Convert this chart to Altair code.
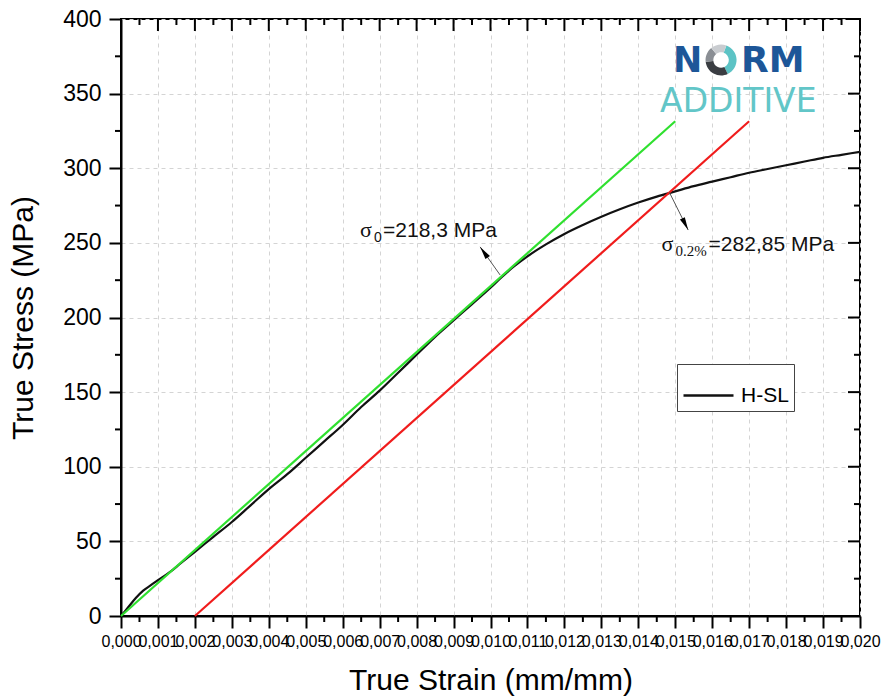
import math
import altair as alt
import pandas as pd

# ---------------- data ----------------
strain = [0.0, 0.0002, 0.0004, 0.0006, 0.0008, 0.0010, 0.0013, 0.0016, 0.0020,
          0.0025, 0.0030, 0.0035, 0.0040, 0.0045, 0.0050, 0.0055, 0.0060, 0.0065,
          0.0070, 0.0075, 0.0080, 0.0085, 0.0090, 0.0095, 0.0100, 0.0103, 0.0106,
          0.0110, 0.0115, 0.0120, 0.0125, 0.0130, 0.0135, 0.0140, 0.0145, 0.0150,
          0.0155, 0.0160, 0.0165, 0.0170, 0.0175, 0.0180, 0.0185, 0.0190, 0.0195,
          0.0200]
stress = [0.0, 6.0, 12.0, 17.0, 20.5, 24.0, 29.0, 35.0, 43.0,
          53.0, 63.0, 74.0, 85.0, 95.0, 106.0, 117.0, 128.0, 140.0,
          151.0, 163.0, 175.0, 187.0, 198.0, 209.0, 220.0, 227.0, 233.5,
          241.0, 249.0, 256.0, 262.0, 267.5, 272.5, 277.0, 281.0, 284.5,
          288.0, 291.0, 294.0, 297.0, 299.5, 302.0, 304.5, 307.0, 309.0,
          311.0]
series_name = "H-SL"

elastic_strain = [0.0, 0.0150]
elastic_stress = [0.0, 331.5]
offset_strain = [0.0020, 0.0170]
offset_stress = [0.0, 331.5]

x_major = [0.000, 0.001, 0.002, 0.003, 0.004, 0.005, 0.006, 0.007, 0.008, 0.009, 0.010,
           0.011, 0.012, 0.013, 0.014, 0.015, 0.016, 0.017, 0.018, 0.019, 0.020]
x_minor = [0.0005, 0.0015, 0.0025, 0.0035, 0.0045, 0.0055, 0.0065, 0.0075, 0.0085, 0.0095,
           0.0105, 0.0115, 0.0125, 0.0135, 0.0145, 0.0155, 0.0165, 0.0175, 0.0185, 0.0195]
y_major = [0, 50, 100, 150, 200, 250, 300, 350, 400]
y_minor = [25, 75, 125, 175, 225, 275, 325, 375]

# annotations
sigma0_sym = "σ"
sigma0_sub = "0"
sigma0_val = "=218,3 MPa"
sigma0_pos = (0.00647, 253.9)
sigma02_sym = "σ"
sigma02_sub = "0.2%"
sigma02_val = "=282,85 MPa"
sigma02_pos = (0.01463, 244.6)
arrow_tail = [(0.01026, 228.5), (0.01484, 283.9)]
arrow_head = [(0.00972, 247.3), (0.01535, 258.6)]

# logo
logo_n_pos = (0.01494, 364.5)
logo_o_pos = (0.01624, 372.5)
logo_rm_pos = (0.01678, 364.5)
logo_add_pos = (0.01459, 337.7)

# ---------------- layout ----------------
W, H = 739, 597
XS = alt.Scale(domain=[0, 0.02], nice=False, zero=False)
YS = alt.Scale(domain=[0, 400], nice=False, zero=False)
FONT = "Liberation Sans"
SERIF = "Liberation Serif"

ax_bottom = alt.Axis(orient="bottom", values=x_major, tickSize=12, tickWidth=2, tickColor="black",
                     domain=True, domainWidth=2, domainColor="black",
                     labelExpr="replace(format(datum.value, '.3f'), '.', ',')",
                     labelFontSize=16, labelFont=FONT, labelColor="black", labelPadding=5,
                     labelOverlap=False, labelFlush=False, labelBound=False,
                     grid=True, gridDash=[4, 4], gridColor="#d4d4d4", gridWidth=1,
                     title="True Strain (mm/mm)", titleFontSize=30, titleFont=FONT,
                     titleFontWeight="normal", titleColor="black", titlePadding=16)
ax_left = alt.Axis(orient="left", values=y_major, tickSize=12, tickWidth=2, tickColor="black",
                   domain=True, domainWidth=2, domainColor="black",
                   labelFontSize=23, labelFont=FONT, labelColor="black", labelPadding=8,
                   labelOverlap=False, labelFlush=False,
                   grid=True, gridDash=[4, 4], gridColor="#d4d4d4", gridWidth=1,
                   title="True Stress (MPa)", titleFontSize=30, titleFont=FONT,
                   titleFontWeight="normal", titleColor="black", titlePadding=24)


def X(field):
    return alt.X(field, scale=XS, axis=ax_bottom)


def Y(field):
    return alt.Y(field, scale=YS, axis=ax_left)


curve_df = pd.DataFrame({"strain": strain, "stress": stress, "series": [series_name] * len(strain)})
elastic_df = pd.DataFrame({"strain": elastic_strain, "stress": elastic_stress})
offset_df = pd.DataFrame({"strain": offset_strain, "stress": offset_stress})

curve = alt.Chart(curve_df).mark_line(strokeWidth=2.2, interpolate="monotone").encode(
    x=X("strain:Q"), y=Y("stress:Q"),
    color=alt.Color("series:N", scale=alt.Scale(domain=[series_name], range=["#111111"]),
                    legend=alt.Legend(orient="none", legendX=556, legendY=345, title=None,
                                      symbolType="stroke", symbolSize=2500, symbolStrokeWidth=2.5,
                                      symbolStrokeColor="#111111",
                                      labelFontSize=21, labelFont=FONT, labelColor="black",
                                      labelOffset=6, strokeColor="#444444", fillColor="white",
                                      padding=5)))
green = alt.Chart(elastic_df).mark_line(color="#2fe02f", strokeWidth=2.2).encode(
    x=X("strain:Q"), y=Y("stress:Q"))
red = alt.Chart(offset_df).mark_line(color="#f01c1c", strokeWidth=2.2).encode(
    x=X("strain:Q"), y=Y("stress:Q"))


# extra ticks (minor ticks, and inward ticks on the top / right frame)
def xticks(vals, y0, y1):
    return alt.Chart(pd.DataFrame({"v": vals})).mark_rule(color="black", strokeWidth=2).encode(
        x=X("v:Q"), y=alt.value(y0), y2=alt.value(y1))


def yticks(vals, x0, x1):
    return alt.Chart(pd.DataFrame({"v": vals})).mark_rule(color="black", strokeWidth=2).encode(
        y=Y("v:Q"), x=alt.value(x0), x2=alt.value(x1))


ticks = [
    xticks(x_minor, H, H + 6),
    yticks(y_minor, 0, -6),
    xticks(x_major, 0, 12),
    xticks(x_minor, 0, 6),
    yticks(y_major, W, W - 12),
    yticks(y_minor, W, W - 6),
]

# arrows
arrow_df = pd.DataFrame({"x": [t[0] for t in arrow_tail], "y": [t[1] for t in arrow_tail],
                         "x2": [h[0] for h in arrow_head], "y2": [h[1] for h in arrow_head]})
arrow_lines = alt.Chart(arrow_df).mark_rule(color="#555555", strokeWidth=1).encode(
    x=X("x:Q"), y=Y("y:Q"), x2="x2:Q", y2="y2:Q")

HEAD = "M0,0 L0.42,2 L-0.42,2 Z"
heads = []
for (tx, ty), (hx, hy) in zip(arrow_tail, arrow_head):
    dxp = (hx - tx) * W / 0.02
    dyp = -(hy - ty) * H / 400
    ang = math.degrees(math.atan2(dxp, -dyp)) % 360
    heads.append(alt.Chart(pd.DataFrame({"x": [hx], "y": [hy]})).mark_point(
        shape=HEAD, filled=True, color="black", opacity=1, size=170, angle=ang, strokeWidth=0).encode(
        x=X("x:Q"), y=Y("y:Q")))


def txt(pos, text, font, size, dx=0, dy=0, color="#111111", weight="normal"):
    return alt.Chart(pd.DataFrame({"x": [pos[0]], "y": [pos[1]]})).mark_text(
        text=text, font=font, fontSize=size, fontWeight=weight, color=color, align="left",
        baseline="alphabetic", dx=dx, dy=dy).encode(x=X("x:Q"), y=Y("y:Q"))


labels = [
    txt(sigma0_pos, sigma0_sym, SERIF, 22),
    txt(sigma0_pos, sigma0_sub, FONT, 14, dx=14, dy=5),
    txt(sigma0_pos, sigma0_val, FONT, 21, dx=23),
    txt(sigma02_pos, sigma02_sym, SERIF, 22),
    txt(sigma02_pos, sigma02_sub, SERIF, 15, dx=14, dy=5),
    txt(sigma02_pos, sigma02_val, FONT, 21, dx=47),
]


# logo
def sector(a0, a1, ro=1.0, ri=0.5):
    def pt(r, a):
        return f"{r * math.sin(a):.4f},{-r * math.cos(a):.4f}"
    large = 1 if (a1 - a0) > math.pi else 0
    return (f"M{pt(ro, a0)} A{ro},{ro} 0 {large} 1 {pt(ro, a1)} L{pt(ri, a1)} "
            f"A{ri},{ri} 0 {large} 0 {pt(ri, a0)} Z")


ring_parts = [(0.35, 2.7, "#5cc3c5"), (2.7, 4.6, "#3a3d42"), (4.6, 5.6, "#8a8e94"), (5.6, 6.63, "#c9ccd0")]
ring = []
for a0, a1, col in ring_parts:
    ring.append(alt.Chart(pd.DataFrame({"x": [logo_o_pos[0]], "y": [logo_o_pos[1]]})).mark_point(
        shape=sector(a0, a1), filled=True, color=col, opacity=1, size=961, strokeWidth=0).encode(
        x=X("x:Q"), y=Y("y:Q")))

logo = [
    txt(logo_n_pos, "N", "DejaVu Sans", 35, color="#1d5698", weight="bold"),
    txt(logo_rm_pos, "RM", "DejaVu Sans", 36, color="#1d5698", weight="bold"),
    txt(logo_add_pos, "ADDITIVE", "DejaVu Sans", 33, color="#62c6c8"),
] + ring

chart = alt.layer(curve, green, red, *ticks, arrow_lines, *heads, *labels, *logo).properties(
    width=W, height=H,
    autosize=alt.AutoSizeParams(type="none"),
    padding={"left": 121, "top": 19, "right": 22, "bottom": 83},
    background="white",
).configure_view(stroke="black", strokeWidth=2)

chart.save("out.html", embed_options={"renderer": "svg", "actions": False})
